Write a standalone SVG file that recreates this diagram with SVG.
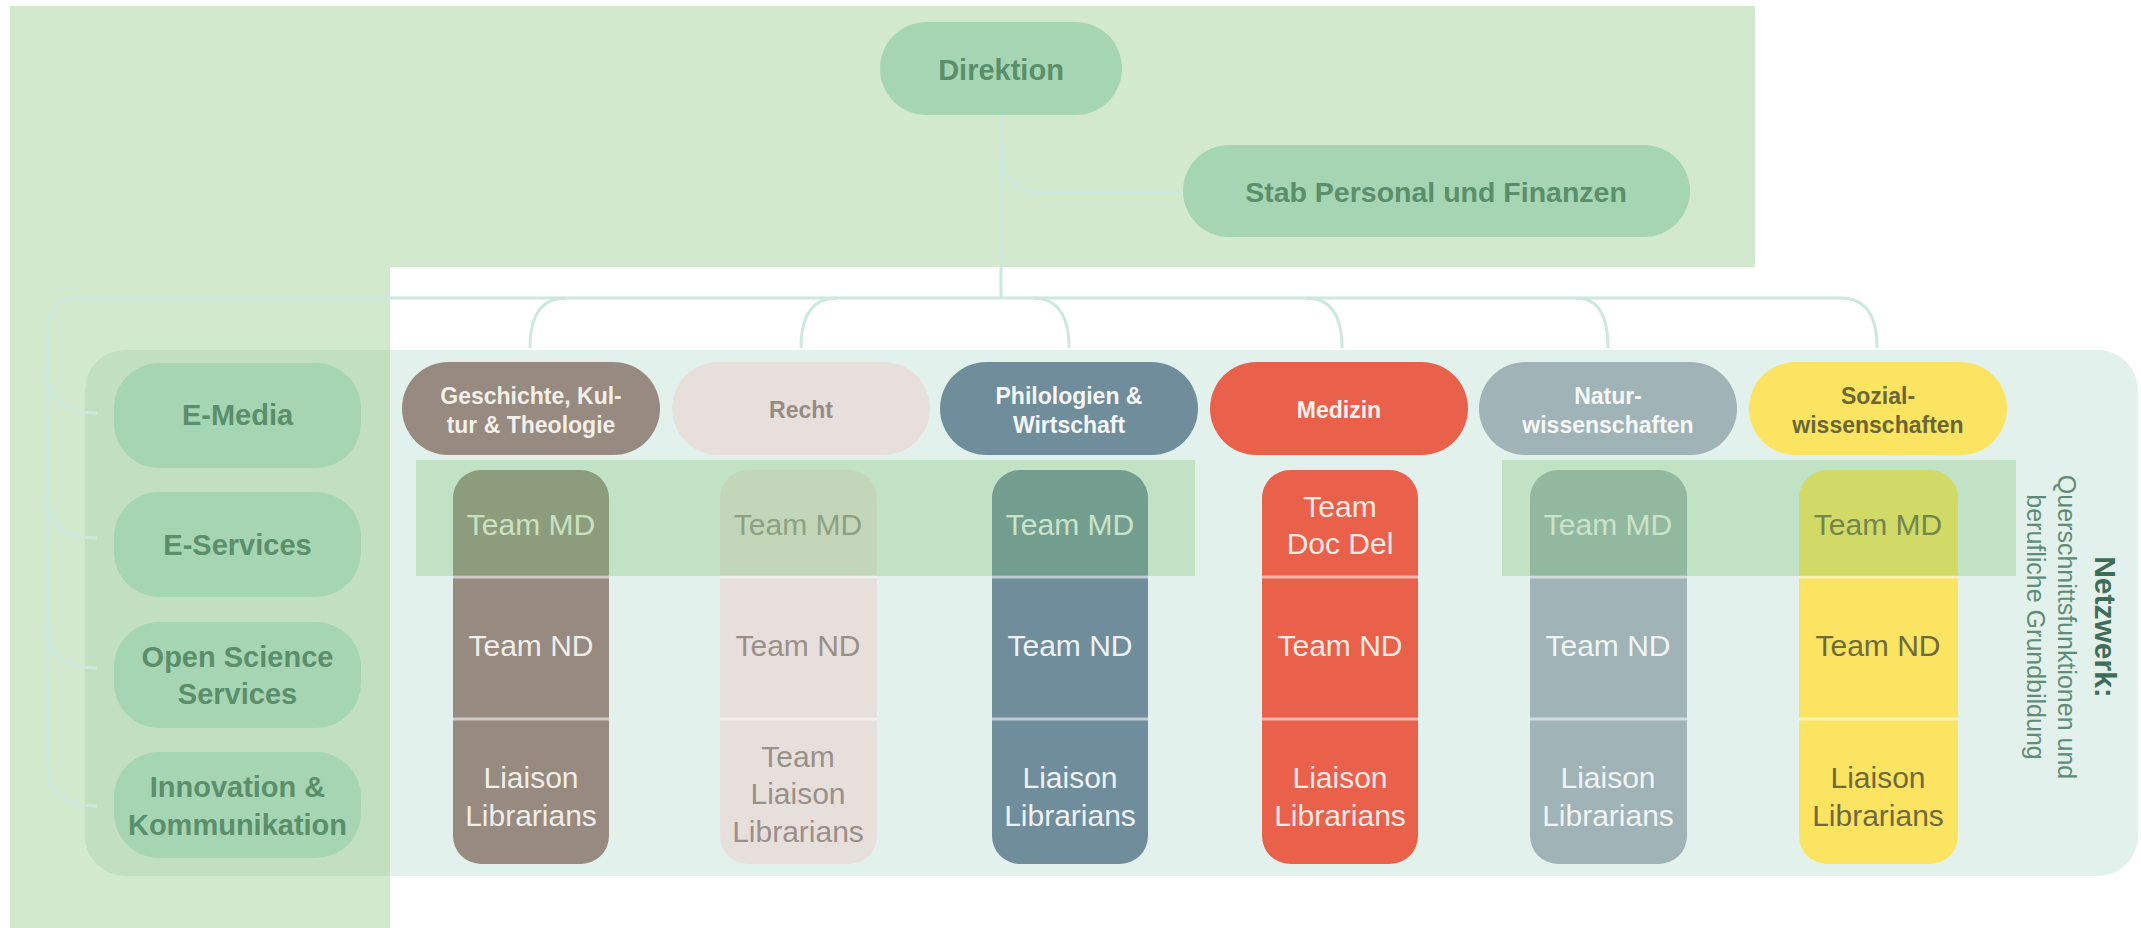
<svg xmlns="http://www.w3.org/2000/svg" width="2141" height="928" viewBox="0 0 2141 928">
<style>
  text { font-family: "Liberation Sans", Arial, sans-serif; }
  .gbox { fill: #a5d5b2; }
  .glabel { fill: #5b8e6b; font-weight: bold; text-anchor: middle; }
  .conn { fill: none; stroke: #cce8df; stroke-width: 3; }
  .head { font-size: 23px; font-weight: bold; text-anchor: middle; }
  .team { font-size: 30px; text-anchor: middle; }
  .div { stroke: #ffffff; stroke-opacity: 0.55; stroke-width: 3; }
  .band { fill: rgb(120,195,115); fill-opacity: 0.32; }
  .vt { text-anchor: middle; }
</style>
<rect width="2141" height="928" fill="#ffffff"/>

<!-- network panel -->
<rect id="panel" x="85" y="350" width="2053" height="526" rx="40" fill="#e3f1ec"/>

<!-- L-shaped green background -->
<path id="bg-green" d="M10,6 H1755 V267 H390 V928 H10 Z" fill="rgb(145,200,130)" fill-opacity="0.4"/>

<!-- connectors -->
<g id="connectors" class="conn">
  <path d="M1001,115 V298"/>
  <path d="M1001,145 Q1001,192 1040,192 H1183"/>
  <path d="M1841,298 H80 Q48,298 48,330 V765 Q48,806 97,806"/>
  <path d="M48,372 Q48,413 97,413"/>
  <path d="M48,497 Q48,538 97,538"/>
  <path d="M48,627 Q48,668 97,668"/>
  <path d="M566,298 Q530,298 530,348"/>
  <path d="M837,298 Q801,298 801,348"/>
  <path d="M1033,298 Q1069,298 1069,348"/>
  <path d="M1306,298 Q1342,298 1342,348"/>
  <path d="M1576,298 Q1608,298 1608,348"/>
  <path d="M1841,298 Q1877,298 1877,348"/>
</g>

<!-- top nodes -->
<g id="direktion">
  <rect class="gbox" x="880" y="22" width="242" height="93" rx="46.5"/>
  <text class="glabel" x="1001" y="80" font-size="29">Direktion</text>
</g>
<g id="stab">
  <rect class="gbox" x="1183" y="145" width="507" height="92" rx="46"/>
  <text class="glabel" x="1436" y="202" font-size="28.5">Stab Personal und Finanzen</text>
</g>

<!-- left service nodes -->
<g id="e-media">
  <rect class="gbox" x="114" y="363" width="247" height="105" rx="45"/>
  <text class="glabel" x="237.5" y="425" font-size="29">E-Media</text>
</g>
<g id="e-services">
  <rect class="gbox" x="114" y="492" width="247" height="105" rx="45"/>
  <text class="glabel" x="237.5" y="555" font-size="29">E-Services</text>
</g>
<g id="open-science">
  <rect class="gbox" x="114" y="622" width="247" height="106" rx="45"/>
  <text class="glabel" x="237.5" font-size="29"><tspan x="237.5" y="667">Open Science</tspan><tspan x="237.5" y="704">Services</tspan></text>
</g>
<g id="innovation">
  <rect class="gbox" x="114" y="752" width="247" height="106" rx="45"/>
  <text class="glabel" x="237.5" font-size="29"><tspan x="237.5" y="797">Innovation &amp;</tspan><tspan x="237.5" y="835">Kommunikation</tspan></text>
</g>

<!-- faculty columns -->
<g id="geschichte">
  <rect x="402" y="362" width="258" height="93" rx="46.5" fill="#978a80"/>
  <text class="head" fill="#f3efe9"><tspan x="531" y="404">Geschichte, Kul-</tspan><tspan x="531" y="433">tur &amp; Theologie</tspan></text>
  <rect x="453" y="470" width="156" height="394" rx="28" fill="#978a80"/>
  <line class="div" x1="453" y1="577" x2="609" y2="577"/>
  <line class="div" x1="453" y1="719" x2="609" y2="719"/>
  <text class="team" fill="#f1ede9" x="531" y="535">Team MD</text>
  <text class="team" fill="#f1ede9" x="531" y="656">Team ND</text>
  <text class="team" fill="#f1ede9"><tspan x="531" y="788">Liaison</tspan><tspan x="531" y="826">Librarians</tspan></text>
</g>
<g id="recht">
  <rect x="672" y="362" width="258" height="93" rx="46.5" fill="#e7dfdb"/>
  <text class="head" fill="#968b85" x="801" y="418">Recht</text>
  <rect x="720" y="470" width="157" height="394" rx="28" fill="#e7dfdb"/>
  <line class="div" x1="720" y1="577" x2="877" y2="577"/>
  <line class="div" x1="720" y1="719" x2="877" y2="719"/>
  <text class="team" fill="#9a908a" x="798" y="535">Team MD</text>
  <text class="team" fill="#9a908a" x="798" y="656">Team ND</text>
  <text class="team" fill="#9a908a"><tspan x="798" y="767">Team</tspan><tspan x="798" y="804">Liaison</tspan><tspan x="798" y="842">Librarians</tspan></text>
</g>
<g id="philologien">
  <rect x="940" y="362" width="258" height="93" rx="46.5" fill="#708d9c"/>
  <text class="head" fill="#f4f6f7"><tspan x="1069" y="404">Philologien &amp;</tspan><tspan x="1069" y="433">Wirtschaft</tspan></text>
  <rect x="992" y="470" width="156" height="394" rx="28" fill="#708d9c"/>
  <line class="div" x1="992" y1="577" x2="1148" y2="577"/>
  <line class="div" x1="992" y1="719" x2="1148" y2="719"/>
  <text class="team" fill="#eef2f4" x="1070" y="535">Team MD</text>
  <text class="team" fill="#eef2f4" x="1070" y="656">Team ND</text>
  <text class="team" fill="#eef2f4"><tspan x="1070" y="788">Liaison</tspan><tspan x="1070" y="826">Librarians</tspan></text>
</g>
<g id="medizin">
  <rect x="1210" y="362" width="258" height="93" rx="46.5" fill="#e9604b"/>
  <text class="head" fill="#fdf1ee" x="1339" y="418">Medizin</text>
  <rect x="1262" y="470" width="156" height="394" rx="28" fill="#e9604b"/>
  <line class="div" x1="1262" y1="577" x2="1418" y2="577"/>
  <line class="div" x1="1262" y1="719" x2="1418" y2="719"/>
  <text class="team" fill="#fde9e4"><tspan x="1340" y="517">Team</tspan><tspan x="1340" y="554">Doc Del</tspan></text>
  <text class="team" fill="#fde9e4" x="1340" y="656">Team ND</text>
  <text class="team" fill="#fde9e4"><tspan x="1340" y="788">Liaison</tspan><tspan x="1340" y="826">Librarians</tspan></text>
</g>
<g id="natur">
  <rect x="1479" y="362" width="258" height="93" rx="46.5" fill="#a0b3b6"/>
  <text class="head" fill="#f6f8f8"><tspan x="1608" y="404">Natur-</tspan><tspan x="1608" y="433">wissenschaften</tspan></text>
  <rect x="1530" y="470" width="157" height="394" rx="28" fill="#a0b3b6"/>
  <line class="div" x1="1530" y1="577" x2="1687" y2="577"/>
  <line class="div" x1="1530" y1="719" x2="1687" y2="719"/>
  <text class="team" fill="#f1f4f4" x="1608" y="535">Team MD</text>
  <text class="team" fill="#f1f4f4" x="1608" y="656">Team ND</text>
  <text class="team" fill="#f1f4f4"><tspan x="1608" y="788">Liaison</tspan><tspan x="1608" y="826">Librarians</tspan></text>
</g>
<g id="sozial">
  <rect x="1749" y="362" width="258" height="93" rx="46.5" fill="#fbe462"/>
  <text class="head" fill="#6b6636"><tspan x="1878" y="404">Sozial-</tspan><tspan x="1878" y="433">wissenschaften</tspan></text>
  <rect x="1799" y="470" width="159" height="394" rx="28" fill="#fbe462"/>
  <line class="div" x1="1799" y1="577" x2="1958" y2="577"/>
  <line class="div" x1="1799" y1="719" x2="1958" y2="719"/>
  <text class="team" fill="#6f6a3b" x="1878" y="535">Team MD</text>
  <text class="team" fill="#6f6a3b" x="1878" y="656">Team ND</text>
  <text class="team" fill="#6f6a3b"><tspan x="1878" y="788">Liaison</tspan><tspan x="1878" y="826">Librarians</tspan></text>
</g>

<!-- Team MD bands -->
<rect id="band-1" class="band" x="416" y="460" width="779" height="116"/>
<rect id="band-2" class="band" x="1502" y="460" width="514" height="116"/>

<!-- network label -->
<g id="netzwerk">
  <text class="vt" transform="translate(2095,627) rotate(90)" font-size="30" font-weight="bold" fill="#3e6d58">Netzwerk:</text>
  <text class="vt" transform="translate(2058,627) rotate(90)" font-size="25" fill="#5f8c76">Querschnittsfunktionen und</text>
  <text class="vt" transform="translate(2027,627) rotate(90)" font-size="25" fill="#5f8c76">berufliche Grundbildung</text>
</g>
</svg>
